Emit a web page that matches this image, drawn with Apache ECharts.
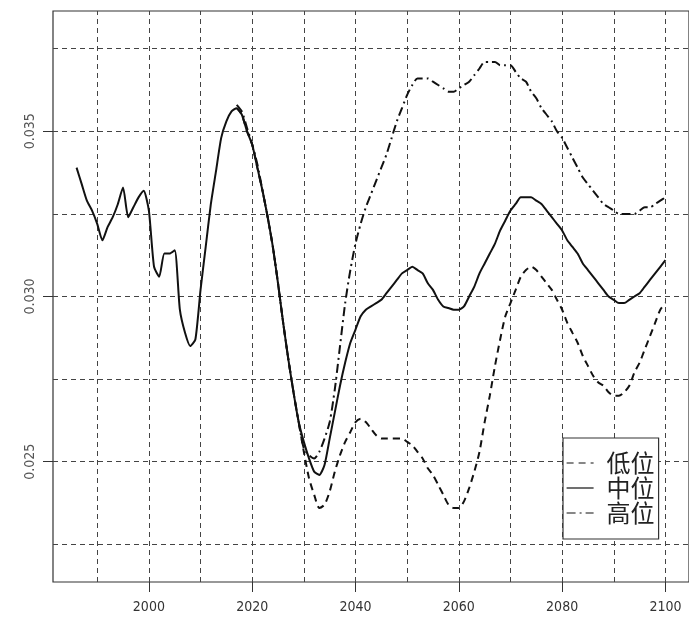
<!DOCTYPE html>
<html>
<head>
<meta charset="utf-8">
<script src="https://cdn.jsdelivr.net/npm/echarts@6/dist/echarts.min.js"></script>
<style>
  html, body { margin: 0; padding: 0; background: #fff; }
  #chart { width: 689px; height: 626px; }
</style>
</head>
<body>
<div id="chart"></div>
<script>
// 中位: 1986-2100, one value per year
const midStart = 1986;
const midValues = [
  0.0339, 0.0334, 0.0329, 0.0326, 0.0322, 0.0317, 0.0321, 0.0324, 0.0328, 0.0333,
  0.0324, 0.0327, 0.0330, 0.0332, 0.0326, 0.0309, 0.0306, 0.0313, 0.0313, 0.0314,
  0.0296, 0.0289, 0.0285, 0.0287, 0.0302, 0.0315, 0.0328, 0.0338, 0.0348, 0.0353,
  0.0356, 0.0357, 0.0355, 0.0350, 0.0346, 0.0339, 0.0332, 0.0324, 0.0315, 0.0304,
  0.0292, 0.0281, 0.0271, 0.0262, 0.0256, 0.0251, 0.0247, 0.0246, 0.0249, 0.0257,
  0.0265, 0.0273, 0.0280, 0.0286, 0.0290, 0.0294, 0.0296, 0.0297, 0.0298, 0.0299,
  0.0301, 0.0303, 0.0305, 0.0307, 0.0308, 0.0309, 0.0308, 0.0307, 0.0304, 0.0302,
  0.0299, 0.0297, 0.02965, 0.0296, 0.0296, 0.0297, 0.0300, 0.0303, 0.0307, 0.0310,
  0.0313, 0.0316, 0.0320, 0.0323, 0.0326, 0.0328, 0.0330, 0.0330, 0.0330, 0.0329,
  0.0328, 0.0326, 0.0324, 0.0322, 0.0320, 0.0317, 0.0315, 0.0313, 0.0310, 0.0308,
  0.0306, 0.0304, 0.0302, 0.0300, 0.0299, 0.0298, 0.0298, 0.0299, 0.0300, 0.0301,
  0.0303, 0.0305, 0.0307, 0.0309, 0.0311
];

// 低位: 2017-2100
const lowStart = 2017;
const lowValues = [
  0.0357, 0.0355, 0.0350, 0.0346, 0.0339, 0.0332, 0.0324, 0.0315, 0.0304, 0.0292,
  0.0281, 0.0271, 0.0262, 0.0253, 0.0245, 0.0240, 0.0236, 0.0237, 0.0241, 0.0247,
  0.0252, 0.0256, 0.0259, 0.0262, 0.0263, 0.0262, 0.0260, 0.0258, 0.0257, 0.0257,
  0.0257, 0.0257, 0.0257, 0.0256, 0.0255, 0.0253, 0.0251, 0.0248, 0.0246, 0.0243,
  0.0240, 0.0237, 0.0236, 0.0236, 0.0238, 0.0242, 0.0247, 0.0253, 0.0262, 0.0270,
  0.0279, 0.0287, 0.0294, 0.0298, 0.0302, 0.0306, 0.0308, 0.0309, 0.0308, 0.0306,
  0.0304, 0.0302, 0.0299, 0.0296, 0.0292, 0.0289, 0.0286, 0.0282, 0.0279, 0.0276,
  0.0274, 0.0273, 0.0271, 0.0270, 0.0270, 0.0271, 0.0273, 0.0277, 0.0280, 0.0284,
  0.0288, 0.0292, 0.0296, 0.0298
];

// 高位: 2017-2100
const highStart = 2017;
const highValues = [
  0.0358, 0.0356, 0.0351, 0.0346, 0.0340, 0.0332, 0.0324, 0.0315, 0.0304, 0.0292,
  0.0281, 0.0271, 0.0262, 0.0254, 0.0252, 0.0251, 0.0253, 0.0257, 0.0262, 0.0272,
  0.0285, 0.0298, 0.0308, 0.0316, 0.0322, 0.0327, 0.0331, 0.0335, 0.0339, 0.0343,
  0.0348, 0.0353, 0.0357, 0.0361, 0.0364, 0.0366, 0.0366, 0.0366, 0.0365, 0.0364,
  0.0363, 0.0362, 0.0362, 0.0363, 0.0364, 0.0365, 0.0367, 0.0369, 0.0371, 0.0371,
  0.0371, 0.0370, 0.0370, 0.0370, 0.0368, 0.0366, 0.0365, 0.0362, 0.0360, 0.0357,
  0.0355, 0.0353, 0.0350, 0.0348, 0.0345, 0.0342, 0.0339, 0.0336, 0.0334, 0.0332,
  0.0330, 0.0328, 0.0327, 0.0326, 0.0325, 0.0325, 0.0325, 0.0325, 0.0326, 0.0327,
  0.0327, 0.0328, 0.0329, 0.0330
];

const xTicks = [2000, 2020, 2040, 2060, 2080, 2100];
const yTicks = [0.025, 0.030, 0.035];
const xGrid = [1990, 2000, 2010, 2020, 2030, 2040, 2050, 2060, 2070, 2080, 2090, 2100];
const yGrid = [0.0225, 0.025, 0.0275, 0.030, 0.0325, 0.035, 0.0375];
const xMin = 1981.44, xMax = 2104.56;
const yMin = 0.02136, yMax = 0.03864;

function pairs(start, values) {
  return values.map((v, i) => [start + i, v]);
}

// dashed reference grid, drawn as lines from edge to edge through the axes
const gridLines = xGrid.map(x => [{ coord: [x, yMin] }, { coord: [x, yMax] }])
  .concat(yGrid.map(y => [{ coord: [xMin, y] }, { coord: [xMax, y] }]));

const labelFont = "'Liberation Sans Narrow', 'DejaVu Sans Condensed', sans-serif";

const chart = echarts.init(document.getElementById('chart'));
chart.setOption({
  animation: false,
  backgroundColor: '#fff',
  grid: {
    left: 53, right: -2, top: 11, bottom: 44,
    show: true, borderColor: '#333', borderWidth: 1.2
  },
  legend: {
    left: 563, top: 438,
    orient: 'vertical',
    padding: [13, 4, 14, 3],
    backgroundColor: '#fff',
    borderColor: '#333', borderWidth: 1.2,
    itemWidth: 27, itemHeight: 14, itemGap: 1,
    selectedMode: false,
    data: ['低位', '中位', '高位'],
    itemStyle: { opacity: 0 },
    lineStyle: { width: 1.2 },
    textStyle: {
      fontFamily: "'Noto Sans CJK SC'", fontSize: 24, lineHeight: 24,
      color: '#222', padding: [0, 0, 0, 8]
    }
  },
  xAxis: {
    type: 'value', min: xMin, max: xMax,
    axisLine: { show: false },
    splitLine: { show: false },
    axisTick: { show: true, length: 10, customValues: xTicks, lineStyle: { color: '#333' } },
    axisLabel: {
      customValues: xTicks, margin: 18,
      fontFamily: labelFont, fontSize: 14, color: '#333',
      formatter: v => String(v)
    }
  },
  yAxis: {
    type: 'value', min: yMin, max: yMax,
    axisLine: { show: false },
    splitLine: { show: false },
    axisTick: { show: true, length: 10, customValues: yTicks, lineStyle: { color: '#333' } },
    axisLabel: {
      customValues: yTicks, rotate: 90, margin: 16,
      fontFamily: labelFont, fontSize: 14, color: '#555',
      formatter: v => v.toFixed(3)
    }
  },
  series: [
    {
      name: '低位', type: 'line', z: 3, symbol: 'none', smooth: 0.25,
      data: pairs(lowStart, lowValues),
      itemStyle: { color: '#111' },
      lineStyle: { color: '#111', width: 2, type: [7, 5] }
    },
    {
      name: '中位', type: 'line', z: 4, symbol: 'none', smooth: 0.2,
      data: pairs(midStart, midValues),
      itemStyle: { color: '#111' },
      lineStyle: { color: '#111', width: 2 },
      markLine: {
        silent: true, symbol: 'none', z: 1, label: { show: false },
        lineStyle: { color: '#444', width: 1, type: [5, 4] },
        data: gridLines
      }
    },
    {
      name: '高位', type: 'line', z: 3, symbol: 'none', smooth: 0.25,
      data: pairs(highStart, highValues),
      itemStyle: { color: '#111' },
      lineStyle: { color: '#111', width: 2, type: [9, 4, 2, 4] }
    }
  ]
});
</script>
</body>
</html>
